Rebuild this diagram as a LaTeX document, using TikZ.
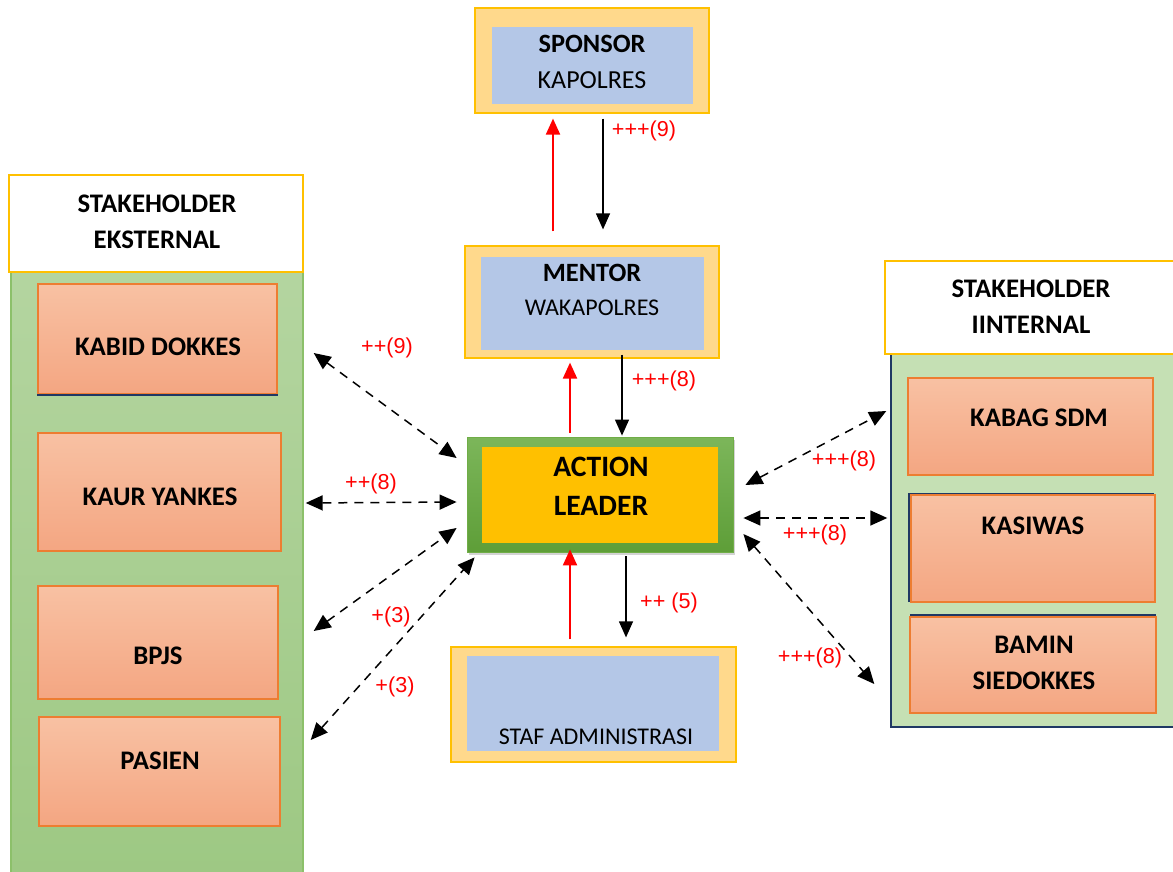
\documentclass[tikz,border=0pt]{standalone}
\usepackage{fontspec}
\setmainfont{Carlito}
\newfontfamily\labelfont{Liberation Sans}
\usepackage{tikz}
\usetikzlibrary{arrows.meta,calc,shadows}
\definecolor{goldline}{RGB}{255,192,0}
\definecolor{sandfill}{RGB}{255,217,140}
\definecolor{blueinner}{RGB}{180,199,231}
\definecolor{salmontop}{RGB}{248,193,163}
\definecolor{salmonbot}{RGB}{244,166,130}
\definecolor{orangeline}{RGB}{237,125,49}
\definecolor{leafgreen}{RGB}{112,173,71}
\definecolor{paneltop}{RGB}{180,213,160}
\definecolor{panelbot}{RGB}{157,200,131}
\definecolor{panelpale}{RGB}{197,224,180}
\definecolor{navyline}{RGB}{32,56,100}

\begin{document}
\begin{tikzpicture}[x=0.5pt,y=-0.5pt,
    outerbox/.style={draw=goldline, line width=0.6pt, fill=sandfill, inner sep=0pt},
    innerbox/.style={fill=blueinner, inner sep=0pt},
    memberbox/.style={draw=orangeline, line width=0.7pt, top color=salmontop, bottom color=salmonbot, inner sep=0pt},
    headbox/.style={draw=goldline, line width=1.1pt, fill=white, inner sep=0pt},
    boldtext/.style={align=center, font=\bfseries\fontsize{13.4}{18}\selectfont},
    plaintext/.style={align=center, font=\fontsize{12}{18}\selectfont},
    flowup/.style={red, line width=1pt, -{Triangle[length=8pt,width=7pt]}},
    flowdown/.style={black, line width=0.6pt, -{Triangle[length=8pt,width=7pt]}},
    twoway/.style={black, line width=0.75pt, dash pattern=on 4.5pt off 3.5pt, {Triangle[length=8.5pt,width=7.5pt]}-{Triangle[length=8.5pt,width=7.5pt]}},
    weight/.style={red, font=\labelfont\fontsize{10.8}{12}\selectfont, inner sep=0pt}]

    \useasboundingbox (0,0) rectangle (1173,872);

    % Stakeholder panels
    \node[draw={rgb,255:red,140;green,192;blue,106}, line width=0.6pt, top color=paneltop, bottom color=panelbot,
          minimum width=146pt, minimum height=309pt, inner sep=0pt] (extpanel) at (157,575) {};
    \node[draw=navyline, line width=1pt, fill=panelpale,
          minimum width=144.5pt, minimum height=187pt, inner sep=0pt] (intpanel) at (1035,540) {};
    \node[headbox, minimum width=147pt, minimum height=48.5pt] (exthead) at (156,223.5) {};
    \node[boldtext] (extheadtxt) at (157,222) {STAKEHOLDER\\EKSTERNAL};
    \node[headbox, minimum width=147pt, minimum height=46.5pt] (inthead) at (1032,307.5) {};
    \node[boldtext] (intheadtxt) at (1031,307) {STAKEHOLDER\\IINTERNAL};

    % External stakeholders
    \node[memberbox, minimum width=119.5pt, minimum height=55pt] (kabid) at (157.5,339) {};
    \draw[navyline, line width=0.8pt] (kabid.south west) -- (kabid.south east);
    \node[boldtext] (kabidtxt) at (158,347) {KABID DOKKES};
    \node[memberbox, minimum width=121.5pt, minimum height=59pt] (kaur) at (159.5,492) {};
    \node[boldtext] (kaurtxt) at (160,497) {KAUR YANKES};
    \node[memberbox, minimum width=120pt, minimum height=56.5pt] (bpjs) at (158,642.5) {};
    \node[boldtext] (bpjstxt) at (158,656) {BPJS};
    \node[memberbox, minimum width=120.5pt, minimum height=54.5pt] (pasien) at (159.5,771.5) {};
    \node[boldtext] (pasientxt) at (160,761) {PASIEN};

    % Internal stakeholders
    \node[memberbox, minimum width=122.5pt, minimum height=48.5pt] (kabag) at (1030.5,426.5) {};
    \node[boldtext] (kabagtxt) at (1039,418) {KABAG SDM};
    \draw[navyline, line width=0.8pt] (909,602) |- (1154,494);
    \node[memberbox, minimum width=122pt, minimum height=53.5pt] (kasiwas) at (1033,548.5) {};
    \node[boldtext] (kasiwastxt) at (1033,526) {KASIWAS};
    \draw[navyline, line width=0.8pt] (910,615) -- (1156,615);
    \node[memberbox, minimum width=123pt, minimum height=48pt] (bamin) at (1033,665) {};
    \node[boldtext] (bamintxt) at (1034,663) {BAMIN\\SIEDOKKES};

    % Central chain
    \node[outerbox, minimum width=117pt, minimum height=52.5pt] (sponsor) at (592,60.5) {};
    \node[innerbox, minimum width=100.5pt, minimum height=38.5pt] (sponsorin) at (592.5,65.5) {};
    \node[align=center, font=\fontsize{13}{18}\selectfont] (sponsortxt) at (592,62)
        {{\bfseries\fontsize{13.2}{18}\selectfont SPONSOR}\\KAPOLRES};

    \node[outerbox, minimum width=127pt, minimum height=56pt] (mentor) at (592,302) {};
    \node[innerbox, minimum width=111.5pt, minimum height=46.5pt] (mentorin) at (592.5,303.5) {};
    \node[align=center, font=\fontsize{12}{17}\selectfont] (mentortxt) at (592,290)
        {{\bfseries\fontsize{13.2}{17}\selectfont MENTOR}\\WAKAPOLRES};

    \node[draw=leafgreen, top color={rgb,255:red,124;green,182;blue,90}, bottom color={rgb,255:red,94;green,158;blue,56},
          drop shadow={shadow xshift=1pt, shadow yshift=-1.5pt, opacity=0.35},
          minimum width=133pt, minimum height=57.5pt, inner sep=0pt] (action) at (600,494.5) {};
    \node[fill=goldline, minimum width=118pt, minimum height=48pt, inner sep=0pt] (actionin) at (600,495) {};
    \node[align=center, font=\bfseries\fontsize{14.8}{19.5}\selectfont] (actiontxt) at (601,486) {ACTION\\LEADER};

    \node[outerbox, minimum width=142.5pt, minimum height=57.5pt] (staf) at (593.5,704.5) {};
    \node[innerbox, minimum width=126pt, minimum height=47.5pt] (stafin) at (593,703.5) {};
    \node[plaintext] (staftxt) at (596,737) {STAF ADMINISTRASI};

    % Vertical flows
    \draw[flowup] ($(mentor.north)+(-39,-14)$) -- ($(sponsor.south)+(-39,5)$);
    \draw[flowdown] ($(sponsor.south)+(11,5)$) -- ($(mentor.north)+(11,-16)$);
    \draw[flowup] ($(action.north)+(-30,-4)$) -- ($(mentor.south)+(-22,4)$);
    \draw[flowdown] ($(mentor.south)+(30,-4)$) -- ($(action.north)+(22,-1)$);
    \draw[flowup] ($(staf.north)+(-23.5,-7)$) -- ($(action.south)+(-30,-3)$);
    \draw[flowdown] ($(action.south)+(26,4)$) -- ($(staf.north)+(32.5,-9)$);

    % Two-way links
    \draw[twoway] ($(kabid.east)+(36,14)$) -- ($(action.west)+(-10,-36.5)$);
    \draw[twoway] ($(kaur.east)+(24,11)$) -- ($(action.west)+(-10,7.5)$);
    \draw[twoway] ($(bpjs.east)+(35,-11.5)$) -- ($(action.west)+(-10,33.5)$);
    \draw[twoway] ($(pasien.east)+(30,-31.5)$) -- ($(action.south west)+(8,5)$);
    \draw[twoway] ($(action.east)+(12,-9.5)$) -- ($(kabag.west)+(-21,-15.5)$);
    \draw[twoway] ($(action.east)+(10,23.5)$) -- ($(kasiwas.west)+(-23,-30.5)$);
    \draw[twoway] ($(action.east)+(10,39.5)$) -- ($(bamin.west)+(-35,19)$);

    % Weights
    \node[weight] (w1) at (644,131) {+++(9)};
    \node[weight] (w2) at (664,381) {+++(8)};
    \node[weight] (w3) at (669,603) {++ (5)};
    \node[weight] (w4) at (387,348) {++(9)};
    \node[weight] (w5) at (371,484) {++(8)};
    \node[weight] (w6) at (391,617) {+(3)};
    \node[weight] (w7) at (395,687) {+(3)};
    \node[weight] (w8) at (844,461) {+++(8)};
    \node[weight] (w9) at (815,535) {+++(8)};
    \node[weight] (w10) at (810,658) {+++(8)};
\end{tikzpicture}
\end{document}
